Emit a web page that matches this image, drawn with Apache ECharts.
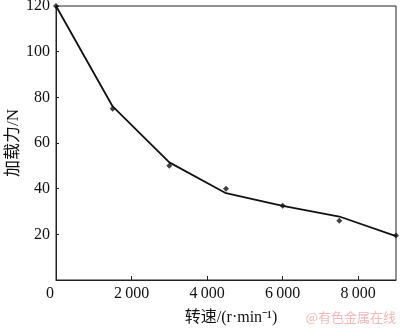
<!DOCTYPE html>
<html>
<head>
<meta charset="utf-8">
<script src="https://cdn.jsdelivr.net/npm/echarts@6/dist/echarts.min.js"></script>
<style>
  html, body { margin: 0; padding: 0; background: #fff; }
  #chart { width: 400px; height: 330px; }
</style>
</head>
<body>
<div id="chart"></div>
<script>
// Rotational speed (r/min) vs. loading force (N)
const speeds = [0, 1500, 3000, 4500, 6000, 7500, 9000];
const measuredForce = [120, 75, 50, 40, 32.5, 26, 19.5];
const fittedForce = [120, 76, 51.5, 38, 32.5, 27.8, 19.2];
const xTicks = [0, 2000, 4000, 6000, 8000];
const yTicks = [0, 20, 40, 60, 80, 100, 120];

const serif = '"Liberation Serif", "Noto Sans CJK SC", serif';

function fmtThousands(v) {
  if (v < 1000) return String(v);
  const s = String(v);
  return s.slice(0, s.length - 3) + '\u2009' + s.slice(s.length - 3);
}

const chart = echarts.init(document.getElementById('chart'), null, { renderer: 'canvas' });

chart.setOption({
  animation: false,
  backgroundColor: '#fff',
  grid: {
    left: 56, right: 4, top: 6, bottom: 50,
    outerBoundsMode: 'none', containLabel: false,
    show: true, borderColor: '#222', borderWidth: 1
  },
  xAxis: {
    type: 'value',
    min: xTicks[0], max: 9000, interval: xTicks[1] - xTicks[0],
    name: '转速/(r\u00b7min\u207b\u00b9)',
    nameLocation: 'middle', nameGap: 30, nameMoveOverlap: false,
    nameTextStyle: { fontFamily: serif, fontSize: 16, color: '#111', padding: [0, 0, 0, 10] },
    axisLine: { show: true, lineStyle: { color: '#222', width: 1 } },
    axisTick: { show: true, inside: true, length: 4, lineStyle: { color: '#222' } },
    splitLine: { show: false },
    axisLabel: {
      show: true, margin: 6, showMaxLabel: false,
      fontFamily: serif, fontSize: 16, color: '#111',
      formatter: function (v) {
        if (v === 0) return '{o|0}';
        if (xTicks.indexOf(v) < 0) return '';
        return fmtThousands(v);
      },
      rich: { o: { fontFamily: serif, fontSize: 16, color: '#111', padding: [0, 12, 0, 0] } }
    }
  },
  yAxis: {
    type: 'value',
    min: yTicks[0], max: yTicks[yTicks.length - 1], interval: yTicks[1] - yTicks[0],
    name: '加载力/N',
    nameLocation: 'middle', nameGap: 34, nameMoveOverlap: false,
    nameTextStyle: { fontFamily: serif, fontSize: 17, color: '#111' },
    axisLine: { show: true, lineStyle: { color: '#222', width: 1 } },
    axisTick: { show: true, inside: true, length: 3, lineStyle: { color: '#222' } },
    splitLine: { show: false },
    axisLabel: {
      margin: 6, showMinLabel: false,
      fontFamily: serif, fontSize: 16, color: '#111'
    }
  },
  graphic: [{
    type: 'text', right: 4, top: 311,
    style: { text: '@有色金属在线', font: '13px "Noto Sans CJK SC"', fill: '#f1b9b9' }
  }],
  series: [
    {
      type: 'line',
      data: speeds.map((s, i) => [s, fittedForce[i]]),
      showSymbol: false,
      lineStyle: { color: '#111', width: 1.8 },
      z: 2
    },
    {
      type: 'scatter',
      data: speeds.map((s, i) => [s, measuredForce[i]]),
      symbol: 'diamond', symbolSize: 6,
      itemStyle: { color: '#111' },
      z: 3
    }
  ]
});
</script>
</body>
</html>
